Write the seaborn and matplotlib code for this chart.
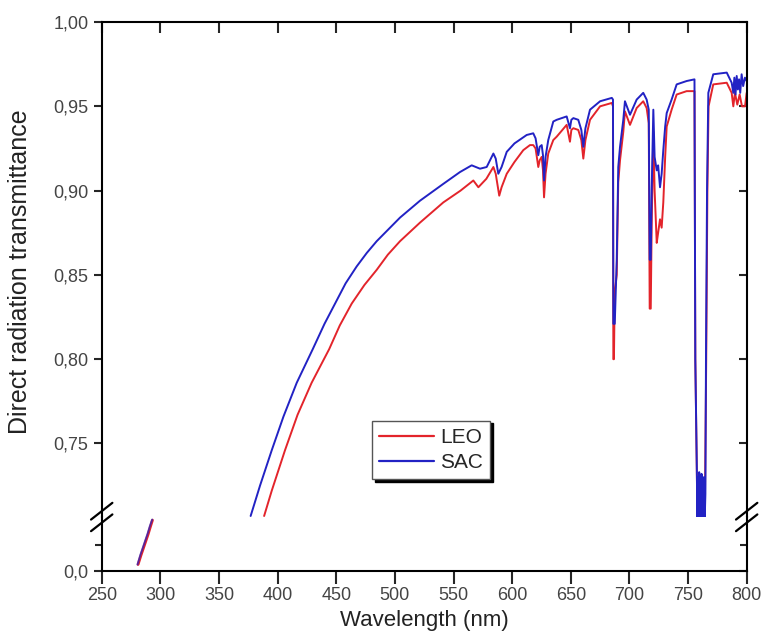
import numpy as np
import pandas as pd
import matplotlib
matplotlib.use("Agg")
import matplotlib.pyplot as plt
import seaborn as sns
from matplotlib.ticker import FuncFormatter, FixedLocator
from matplotlib.lines import Line2D

# LEO (red) - upper segment
leo_wl = [388.5, 395, 406.3, 417, 429, 444, 453, 463.2, 474, 484.5, 494, 504.4, 521.4, 541.3,
          556,
          566.9, 571.2, 578, 584, 586, 589, 591, 595.4, 602, 609.5, 615.2, 618, 620, 622.3, 623.5,
          625.2, 626.3, 627.2, 628.5, 630.8, 635.1, 638, 646.5, 649.3, 650.5, 652.2, 656.4,
          659, 660.7, 662.5, 666.4, 675, 685, 686, 686.3, 686.8, 687.5, 689.2, 690.5, 692,
          694.8, 696.2, 700.5, 706.2, 711.8, 714.7, 716.5, 717.3, 718.2, 719, 720.4, 721.5,
          723.3, 724.5, 726.1, 727.5, 728.9, 730.5, 731.8, 736, 740.3, 748.8, 755.5, 756.2,
          757.6, 758.2, 758.8, 759.4, 760, 760.6, 761.2, 761.8, 762.4, 763, 763.6, 764.2,
          765.5, 766.5, 767.5, 771.5, 783, 787.2, 788.6, 790, 792, 794, 796, 798.6, 800]
leo_val = [0.707, 0.722, 0.746, 0.767, 0.786, 0.806, 0.820, 0.833, 0.844, 0.853, 0.862, 0.870,
           0.881, 0.893,
           0.900,
           0.906, 0.902, 0.907, 0.914, 0.910, 0.897, 0.902, 0.910, 0.917, 0.924, 0.927, 0.927,
           0.925, 0.914, 0.918,
           0.920, 0.912, 0.896, 0.910, 0.922, 0.930, 0.932, 0.939, 0.929, 0.936, 0.937, 0.936,
           0.930, 0.919, 0.930, 0.942, 0.950, 0.952, 0.950, 0.800, 0.800, 0.840, 0.850, 0.905,
           0.918,
           0.935, 0.947, 0.939, 0.949, 0.953, 0.949, 0.940, 0.830, 0.830, 0.880, 0.935, 0.900,
           0.869, 0.875, 0.883, 0.878, 0.893, 0.920, 0.938, 0.948, 0.957, 0.959, 0.959, 0.800,
           0.728, 0.700, 0.725, 0.695, 0.722, 0.700, 0.726, 0.695, 0.718, 0.700, 0.724, 0.700,
           0.800, 0.900, 0.950, 0.963, 0.964, 0.958, 0.950, 0.958, 0.951, 0.957, 0.950, 0.950,
           0.958]

# SAC (blue) - upper segment
sac_wl = [377, 385, 395, 405, 416.3, 430, 440, 449, 458, 467.4, 476, 484.5, 504.4, 521.4,
          541.3, 555.5,
          565.5, 572.6, 578.3, 584, 586, 588.2, 591, 595.4, 602, 612.4, 618, 620, 622.3,
          623.5, 625.2, 626.3, 627.2, 628.5, 630.8, 635.1, 638, 646.5, 649.3, 650.5, 652.2,
          656.4, 659, 660.7, 662.5, 666.4, 675, 685, 686, 686.3, 687.5, 689.2, 690.5, 692,
          694.8, 696.2, 700.5, 706.2, 711.8, 714.7, 716.5, 717.3, 718.2, 719, 720.4, 721.5,
          723.3, 724.5, 726.1, 727.5, 728.9, 730.5, 731.8, 736, 740.3, 748.8, 755.5, 756.2,
          757.5, 758, 758.5, 759, 759.5, 760, 760.5, 761, 761.5, 762, 762.5, 763, 763.5, 764,
          764.8, 765.3, 766.2, 767.3,
          771.5, 783, 787.2, 788.6, 789.5, 790.5, 791.5, 792.5, 793.5, 794.5, 795.7, 797, 798.5, 800]
sac_val = [0.707, 0.725, 0.746, 0.766, 0.786, 0.806, 0.821, 0.833, 0.845, 0.855, 0.863, 0.870,
           0.884, 0.894,
           0.904, 0.911,
           0.915, 0.913, 0.914, 0.922, 0.919, 0.910, 0.914, 0.923, 0.928, 0.933, 0.934, 0.931,
           0.921,
           0.926, 0.927, 0.921, 0.906, 0.920, 0.930, 0.941, 0.942, 0.944, 0.937, 0.942, 0.943,
           0.942, 0.936, 0.926, 0.937, 0.948, 0.953, 0.955, 0.954, 0.821, 0.821, 0.859, 0.914,
           0.926,
           0.942, 0.953, 0.945, 0.954, 0.958, 0.954, 0.948, 0.859, 0.859, 0.900, 0.948, 0.920,
           0.912, 0.915, 0.902, 0.910, 0.924, 0.938, 0.946, 0.954, 0.963, 0.965, 0.966, 0.800,
           0.734, 0.700, 0.730, 0.695, 0.733, 0.700, 0.728, 0.695, 0.732, 0.700, 0.725, 0.695,
           0.730, 0.700,
           0.720, 0.800, 0.900, 0.958,
           0.969, 0.970, 0.964, 0.958, 0.967, 0.957, 0.968, 0.960, 0.966, 0.958, 0.969, 0.962,
           0.967, 0.965]

# lower segment (UV edge)
leo_low_wl = [281, 283.5, 286.5, 289.5, 291.5, 293.3]
leo_low_val = [0.012, 0.030, 0.050, 0.070, 0.085, 0.098]
sac_low_wl = [280.5, 283, 286, 289, 291, 293]
sac_low_val = [0.012, 0.031, 0.051, 0.071, 0.086, 0.099]

red = "#e3242b"
blue = "#2222c4"

sns.set_style("ticks")
plt.rcParams['font.family'] = ['Liberation Sans', 'DejaVu Sans']

fig = plt.figure(figsize=(7.63, 6.44), dpi=100)
ax = fig.add_axes([0.1333, 0.1972, 0.8453, 0.7686])   # upper part
ax2 = fig.add_axes([0.1333, 0.1138, 0.8453, 0.0834])  # lower part

sns.lineplot(x=leo_wl, y=leo_val, ax=ax, color=red, lw=1.4, sort=False, estimator=None)
sns.lineplot(x=sac_wl, y=sac_val, ax=ax, color=blue, lw=1.4, sort=False, estimator=None)
sns.lineplot(x=leo_low_wl, y=leo_low_val, ax=ax2, color=red, lw=2, sort=False, estimator=None)
sns.lineplot(x=sac_low_wl, y=sac_low_val, ax=ax2, color=blue, lw=1.4, alpha=0.7, sort=False, estimator=None)

comma = FuncFormatter(lambda v, p: ("%.2f" % v).replace(".", ","))
for a in (ax, ax2):
    a.set_xlim(250, 800)
    for s in a.spines.values():
        s.set_linewidth(1.5)
        s.set_color("black")
    a.spines['right'].set_visible(True)
    a.spines['top'].set_visible(True)
    a.set_xlabel("")
    a.set_ylabel("")

ax.set_ylim(0.7064, 1.0)
ax.spines['bottom'].set_visible(False)
ax.yaxis.set_major_locator(FixedLocator([0.75, 0.80, 0.85, 0.90, 0.95, 1.00]))
ax.yaxis.set_major_formatter(comma)
ax.set_xticks(np.arange(250, 801, 50))
ax.tick_params(axis='x', which='both', bottom=False, labelbottom=False, top=True,
               direction='in', length=8, width=1.5)
ax.tick_params(axis='y', left=True, right=True, direction='out', length=6, width=1.5,
               labelsize=13, labelcolor="#444444")
for t in ax.yaxis.get_ticklines()[1::2]:
    t.set_marker(0)  # right ticks pointing inward

ax2.set_ylim(0, 0.104)
ax2.spines['top'].set_visible(False)
ax2.yaxis.set_major_locator(FixedLocator([0.0]))
ax2.yaxis.set_minor_locator(FixedLocator([0.05]))
ax2.yaxis.set_major_formatter(FuncFormatter(lambda v, p: "0,0"))
ax2.set_xticks(np.arange(250, 801, 50))
ax2.tick_params(axis='x', direction='out', length=9, width=1.5, labelsize=13,
                labelcolor="#444444", pad=3)
ax2.tick_params(axis='y', which='both', left=True, right=True, direction='out', width=1.5,
                labelsize=13, labelcolor="#444444")
ax2.tick_params(axis='y', which='major', length=6)
ax2.tick_params(axis='y', which='minor', length=5)
for t in ax2.yaxis.get_ticklines()[1::2] + ax2.yaxis.get_ticklines(minor=True)[1::2]:
    t.set_marker(0)

ax2.set_xlabel("Wavelength (nm)", fontsize=16, color="#222222", labelpad=4)
fig.text(0.026, 0.578, "Direct radiation transmittance", rotation=90, fontsize=18,
         color="#222222", ha="center", va="center")

# break marks
yb = 1 - 517 / 644
for xf in (0.1333, 0.9786):
    for dy in (-0.009, 0.009):
        fig.add_artist(Line2D([xf - 0.014, xf + 0.014], [yb + dy - 0.013, yb + dy + 0.013],
                              color="black", lw=1.6, transform=fig.transFigure))

handles = [Line2D([], [], color=red, lw=1.6), Line2D([], [], color=blue, lw=1.6)]
leg = ax.legend(handles, ["LEO", "SAC"], loc="lower left", bbox_to_anchor=(0.403, 0.055),
                fontsize=15, frameon=True, fancybox=False, handlelength=2.6,
                handletextpad=0.3, borderpad=0.35, labelspacing=0.3,
                shadow={'color': 'black', 'alpha': 1.0})
leg.get_frame().set_edgecolor("#555555")
leg.get_frame().set_linewidth(1.0)
leg.get_frame().set_alpha(1.0)

fig.savefig("out.png", dpi=100)
